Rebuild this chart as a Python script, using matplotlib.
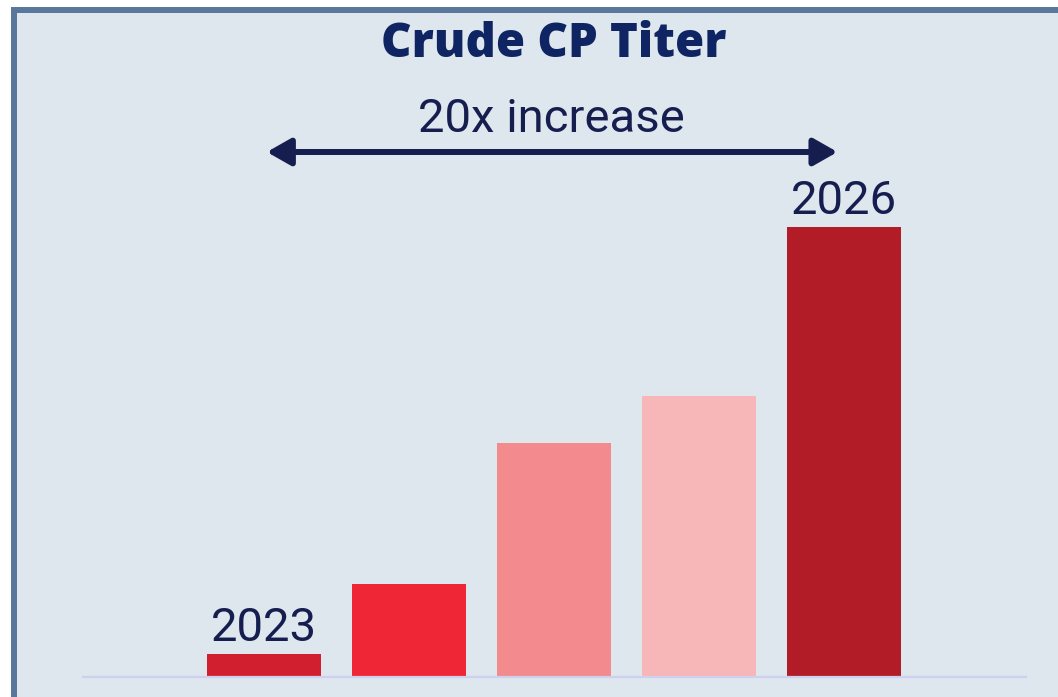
import matplotlib
matplotlib.use('Agg')
import matplotlib.pyplot as plt
from matplotlib.patches import Rectangle

# Bar data (relative titer, 2023 = 1)
years = ['2023', '', '', '', '2026']
values = [1.0, 4.04, 10.17, 12.22, 19.57]
colors = ['#d21f30', '#ee2636', '#f28a8e', '#f7b7b8', '#b11c27']
title = 'Crude CP Titer'
arrowLabel = '20x increase'

W, H = 1058, 697
fig = plt.figure(figsize=(W / 100, H / 100), dpi=100)
fig.patch.set_facecolor('white')

# Panel with border on left and top
panel = Rectangle((14 / W, -0.05), 1.1, 1 - 9.5 / H + 0.05,
                  transform=fig.transFigure, facecolor='#dee6ee',
                  edgecolor='#58779b', linewidth=4.3, zorder=-10)
fig.add_artist(panel)

# Axes placed so that baseline is at y=677 px and tallest bar top at 227 px
ax = fig.add_axes([83 / W, (H - 677) / H, (1026 - 83) / W, (677 - 227) / H])
ax.set_facecolor('none')
ax.set_zorder(1)

x = list(range(len(values)))
ax.bar(x, values, width=0.79, color=colors, zorder=2)
ax.set_xlim(-1.248, 5.255)
ax.set_ylim(0, max(values))

for s in ['top', 'right', 'left']:
    ax.spines[s].set_visible(False)
ax.spines['bottom'].set_color('#cdd1ef')
ax.spines['bottom'].set_linewidth(1.6)
ax.set_xticks([])
ax.set_yticks([])

textColor = '#161e50'
labelFont = dict(family='Roboto', fontsize=34, color=textColor)

# Year labels above first and last bar
for i, lab in enumerate(years):
    if lab:
        ax.annotate(lab, xy=(i, values[i]), xytext=(0, 9.5), textcoords='offset points',
                    ha='center', va='baseline', annotation_clip=False, **labelFont)

# Double arrow spanning first to last bar
arrowY = (677 - 152) / 450
ax.annotate('', xy=(0.02, arrowY), xytext=(3.955, arrowY),
            xycoords=('data', 'axes fraction'), textcoords=('data', 'axes fraction'),
            annotation_clip=False,
            arrowprops=dict(arrowstyle='<|-|>,head_length=0.72,head_width=0.41',
                            mutation_scale=20, color=textColor, lw=4.3,
                            shrinkA=0, shrinkB=0))
ax.text(1.985, (677 - 132) / 450, arrowLabel, transform=ax.get_xaxis_transform(),
        ha='center', va='baseline', clip_on=False, **labelFont)

# Title
fig.text(553.5 / W, 1 - 57 / H, title, ha='center', va='baseline',
         family='Open Sans', fontweight='heavy', fontsize=34, color='#0f2462')

fig.savefig('out.png', dpi=100)
